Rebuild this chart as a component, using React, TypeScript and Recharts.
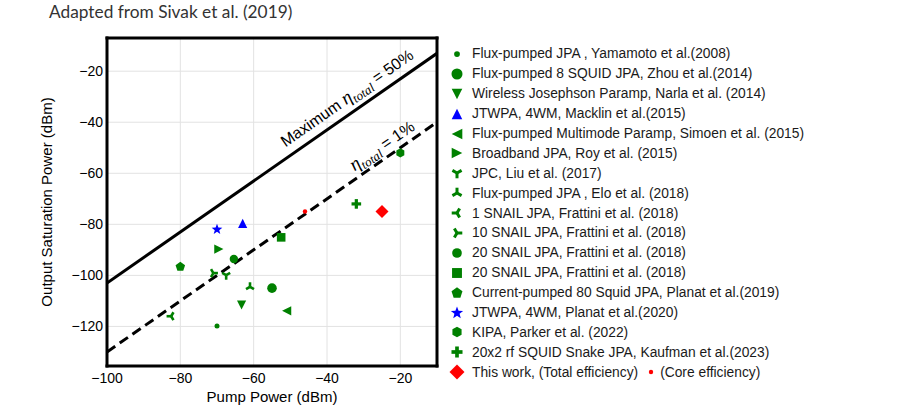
import React from "react";
import { ScatterChart, Scatter, XAxis, YAxis, CartesianGrid, ReferenceDot } from "recharts";

const studies = [
  "Flux-pumped JPA , Yamamoto et al.(2008)",
  "Flux-pumped 8 SQUID JPA, Zhou et al.(2014)",
  "Wireless Josephson Paramp, Narla et al. (2014)",
  "JTWPA, 4WM, Macklin et al.(2015)",
  "Flux-pumped Multimode Paramp, Simoen et al. (2015)",
  "Broadband JPA, Roy et al. (2015)",
  "JPC, Liu et al. (2017)",
  "Flux-pumped JPA , Elo et al. (2018)",
  "1 SNAIL JPA, Frattini et al. (2018)",
  "10 SNAIL JPA, Frattini et al. (2018)",
  "20 SNAIL JPA, Frattini et al. (2018)",
  "20 SNAIL JPA, Frattini et al. (2018)",
  "Current-pumped 80 Squid JPA, Planat et al.(2019)",
  "JTWPA, 4WM, Planat et al.(2020)",
  "KIPA, Parker et al. (2022)",
  "20x2 rf SQUID Snake JPA, Kaufman et al.(2023)",
  "This work, (Total efficiency)",
];

// pump power (dBm) and output saturation power (dBm), one per study
const pumpPower = [-70, -55, -63.3, -63, -51, -69.5, -67.5, -61, -82.5, -71, -65.4, -52.5, -80, -70, -20, -32, -25];
const saturationPower = [-119.8, -105, -111.6, -79.6, -113.9, -89.7, -99.9, -104.5, -116, -99.1, -93.6, -85.1, -96.6, -82, -52, -72, -75];

// this work, core efficiency
const corePump = [-46];
const coreSaturation = [-75];

// efficiency bounds
const boundPump = [-100, -10];
const max50Saturation = [-103, -13];
const eta1Saturation = [-130, -40];

const xMajor = [-100, -80, -60, -40, -20];
const xMinor = [-95, -90, -85, -75, -70, -65, -55, -50, -45, -35, -30, -25, -15];
const yMajor = [-120, -100, -80, -60, -40, -20];
const yMinor = [-135, -130, -125, -115, -110, -105, -95, -90, -85, -75, -70, -65, -55, -50, -45, -35, -30, -25, -15, -10];

const X_DOMAIN: [number, number] = [-100, -10];
const Y_DOMAIN: [number, number] = [-135.5, -7];

const GREEN = "#008000";
const BLUE = "#0000ff";
const RED = "#ff0000";

const markerKinds = [
  "dot", "circle", "tri_down", "tri_up", "tri_left", "tri_right",
  "y_down", "y_up", "y_left", "y_right", "circle_m", "square",
  "pentagon", "star", "hexagon", "plus", "diamond",
];
const markerColors = [
  GREEN, GREEN, GREEN, BLUE, GREEN, GREEN, GREEN, GREEN, GREEN,
  GREEN, GREEN, GREEN, GREEN, BLUE, GREEN, GREEN, RED,
];

const SANS = "'Liberation Sans', Arial, Helvetica, sans-serif";
const MATH = "'Liberation Serif', 'DejaVu Serif', serif";

function regular(cx: number, cy: number, n: number, r: number, start = -90) {
  const pts: string[] = [];
  for (let k = 0; k < n; k++) {
    const a = ((start + (360 / n) * k) * Math.PI) / 180;
    pts.push(`${cx + r * Math.cos(a)},${cy + r * Math.sin(a)}`);
  }
  return pts.join(" ");
}

function starPoints(cx: number, cy: number, r: number) {
  const pts: string[] = [];
  for (let k = 0; k < 10; k++) {
    const rr = k % 2 === 0 ? r : r * 0.42;
    const a = ((-90 + 36 * k) * Math.PI) / 180;
    pts.push(`${cx + rr * Math.cos(a)},${cy + rr * Math.sin(a)}`);
  }
  return pts.join(" ");
}

function Marker({ kind, cx, cy, color, s = 1 }: { kind: string; cx: number; cy: number; color: string; s?: number }) {
  const arms = (angles: number[]) => (
    <g stroke={color} strokeWidth={2.6 * s} strokeLinecap="butt">
      {angles.map((a) => {
        const t = (a * Math.PI) / 180;
        return <line key={a} x1={cx} y1={cy} x2={cx + 4.6 * s * Math.cos(t)} y2={cy + 4.6 * s * Math.sin(t)} />;
      })}
    </g>
  );
  const r = 4.6 * s;
  switch (kind) {
    case "dot":
      return <circle cx={cx} cy={cy} r={2.5 * s} fill={color} />;
    case "circle":
      return <circle cx={cx} cy={cy} r={4.8 * s} fill={color} />;
    case "circle_m":
      return <circle cx={cx} cy={cy} r={4.2 * s} fill={color} />;
    case "tri_down":
      return <polygon points={`${cx - r},${cy - r} ${cx + r},${cy - r} ${cx},${cy + r}`} fill={color} />;
    case "tri_up":
      return <polygon points={`${cx - r},${cy + r} ${cx + r},${cy + r} ${cx},${cy - r}`} fill={color} />;
    case "tri_left":
      return <polygon points={`${cx + r},${cy - r} ${cx + r},${cy + r} ${cx - r},${cy}`} fill={color} />;
    case "tri_right":
      return <polygon points={`${cx - r},${cy - r} ${cx - r},${cy + r} ${cx + r},${cy}`} fill={color} />;
    case "y_down":
      return arms([90, 210, 330]);
    case "y_up":
      return arms([270, 30, 150]);
    case "y_left":
      return arms([180, 300, 60]);
    case "y_right":
      return arms([0, 120, 240]);
    case "square":
      return <rect x={cx - 4.3 * s} y={cy - 4.3 * s} width={8.6 * s} height={8.6 * s} fill={color} />;
    case "pentagon":
      return <polygon points={regular(cx, cy, 5, 5 * s)} fill={color} />;
    case "star":
      return <polygon points={starPoints(cx, cy, 5.6 * s)} fill={color} />;
    case "hexagon":
      return <polygon points={regular(cx, cy, 6, 4.6 * s)} fill={color} />;
    case "plus": {
      const w = 1.6 * s;
      const l = 4.8 * s;
      return (
        <g fill={color}>
          <rect x={cx - l} y={cy - w} width={2 * l} height={2 * w} />
          <rect x={cx - w} y={cy - l} width={2 * w} height={2 * l} />
        </g>
      );
    }
    case "diamond": {
      const d = 6.5 * s;
      return <polygon points={`${cx},${cy - d} ${cx + d},${cy} ${cx},${cy + d} ${cx - d},${cy}`} fill={color} />;
    }
    default:
      return null;
  }
}

const minus = (v: number) => String(v).replace("-", "\u2212");
const tickFont = { fontSize: 14, fill: "#000", fontFamily: SANS };
const frame = { stroke: "#000", strokeWidth: 3, strokeLinecap: "square" as const };
const tickStroke = { stroke: "#000", strokeWidth: 1.3 };

function EtaTotal({ size }: { size: number }) {
  return (
    <>
      <tspan fontFamily={MATH} fontStyle="italic" fontSize={size + 3}>η</tspan>
      <tspan fontFamily={MATH} fontStyle="italic" fontSize={size - 3} dy={4}>total</tspan>
    </>
  );
}

// label anchors along the two bound lines (data coords)
const max50Label = { x: -34.6, y: -30.5 };
const eta1Label = { x: -25, y: -49.2 };
const LINE_ANGLE = -34.8;

export default function App() {
  const series = studies.map((name, i) => ({
    name,
    data: [{ x: pumpPower[i], y: saturationPower[i] }],
  }));
  const core = corePump.map((x, i) => ({ x, y: coreSaturation[i] }));
  const max50 = boundPump.map((x, i) => ({ x, y: max50Saturation[i] }));
  const eta1 = boundPump.map((x, i) => ({ x, y: eta1Saturation[i] }));

  return (
    <div style={{ position: "absolute", left: 0, top: 0, width: 900, height: 415, background: "#fff" }}>
      <div
        style={{
          position: "absolute", left: 49, top: 1, fontFamily: "Lato, 'Open Sans', sans-serif",
          fontSize: 17.3, color: "#333", whiteSpace: "nowrap",
        }}
      >
        Adapted from Sivak et al. (2019)
      </div>

      <ScatterChart width={900} height={415} margin={{ top: 38, right: 463, bottom: 19, left: 47 }}>
        <CartesianGrid stroke="#e2e2e2" strokeWidth={1} />

        <XAxis
          type="number" dataKey="x" domain={X_DOMAIN} allowDataOverflow ticks={xMajor} interval={0}
          tickFormatter={minus} tick={tickFont} tickLine={false} tickSize={0} tickMargin={7}
          axisLine={frame} height={30}
          label={{ value: "Pump Power (dBm)", position: "insideBottom", offset: -6, fontSize: 15, fill: "#000", fontFamily: SANS }}
        />
        <YAxis
          type="number" dataKey="y" domain={Y_DOMAIN} allowDataOverflow ticks={yMajor} interval={0}
          tickFormatter={minus} tick={tickFont} tickLine={false} tickSize={0} tickMargin={4}
          axisLine={frame} width={60}
          label={{
            value: "Output Saturation Power (dBm)", angle: -90, position: "insideLeft", offset: 0,
            fontSize: 15, fill: "#000", fontFamily: SANS, style: { textAnchor: "middle" },
          }}
        />

        <XAxis xAxisId="bMaj" type="number" domain={X_DOMAIN} allowDataOverflow orientation="bottom" mirror
          ticks={xMajor} interval={0} tick={false} tickSize={6} tickLine={tickStroke} axisLine={false} />
        <XAxis xAxisId="bMin" type="number" domain={X_DOMAIN} allowDataOverflow orientation="bottom" mirror
          ticks={xMinor} interval={0} tick={false} tickSize={3.5} tickLine={tickStroke} axisLine={false} />
        <XAxis xAxisId="tMaj" type="number" domain={X_DOMAIN} allowDataOverflow orientation="top" mirror
          ticks={xMajor} interval={0} tick={false} tickSize={6} tickLine={tickStroke} axisLine={frame} />
        <XAxis xAxisId="tMin" type="number" domain={X_DOMAIN} allowDataOverflow orientation="top" mirror
          ticks={xMinor} interval={0} tick={false} tickSize={3.5} tickLine={tickStroke} axisLine={false} />
        <YAxis yAxisId="lMaj" type="number" domain={Y_DOMAIN} allowDataOverflow orientation="left" mirror
          ticks={yMajor} interval={0} tick={false} tickSize={6} tickLine={tickStroke} axisLine={false} />
        <YAxis yAxisId="lMin" type="number" domain={Y_DOMAIN} allowDataOverflow orientation="left" mirror
          ticks={yMinor} interval={0} tick={false} tickSize={3.5} tickLine={tickStroke} axisLine={false} />
        <YAxis yAxisId="rMaj" type="number" domain={Y_DOMAIN} allowDataOverflow orientation="right" mirror
          ticks={yMajor} interval={0} tick={false} tickSize={6} tickLine={tickStroke} axisLine={frame} />
        <YAxis yAxisId="rMin" type="number" domain={Y_DOMAIN} allowDataOverflow orientation="right" mirror
          ticks={yMinor} interval={0} tick={false} tickSize={3.5} tickLine={tickStroke} axisLine={false} />

        <Scatter data={max50} isAnimationActive={false} line={{ stroke: "#000", strokeWidth: 3 }} shape={() => <g />} />
        <Scatter data={eta1} isAnimationActive={false} line={{ stroke: "#000", strokeWidth: 3, strokeDasharray: "10 5.5" }} shape={() => <g />} />

        <ReferenceDot
          x={max50Label.x} y={max50Label.y} r={0} ifOverflow="visible"
          shape={(p: any) => (
            <text x={p.cx} y={p.cy} dy="0.35em" textAnchor="middle" fontFamily={SANS} fontSize={16} fill="#000"
              transform={`rotate(${LINE_ANGLE} ${p.cx} ${p.cy})`}>
              Maximum{" "}<EtaTotal size={16} /><tspan dy={-4}> = 50%</tspan>
            </text>
          )}
        />
        <ReferenceDot
          x={eta1Label.x} y={eta1Label.y} r={0} ifOverflow="visible"
          shape={(p: any) => (
            <text x={p.cx} y={p.cy} dy="0.35em" textAnchor="middle" fontFamily={SANS} fontSize={16} fill="#000"
              transform={`rotate(${LINE_ANGLE} ${p.cx} ${p.cy})`}>
              <EtaTotal size={16} /><tspan dy={-4}> = 1%</tspan>
            </text>
          )}
        />

        {series.map((s, i) => (
          <Scatter
            key={i} name={s.name} data={s.data} isAnimationActive={false}
            shape={(p: any) => <Marker kind={markerKinds[i]} cx={p.cx} cy={p.cy} color={markerColors[i]} />}
          />
        ))}
        <Scatter
          name="Core efficiency" data={core} isAnimationActive={false}
          shape={(p: any) => <circle cx={p.cx} cy={p.cy} r={2.2} fill={RED} />}
        />
      </ScatterChart>

      <div style={{ position: "absolute", left: 447, top: 44, fontFamily: SANS, fontSize: 13.8, color: "#1a1a1a" }}>
        {studies.map((name, i) => (
          <div key={i} style={{ height: 19.9, display: "flex", alignItems: "center", whiteSpace: "nowrap" }}>
            <svg width={20} height={20} style={{ flex: "none" }}>
              <Marker kind={markerKinds[i]} cx={10} cy={10} color={markerColors[i]} s={1.15} />
            </svg>
            <span style={{ marginLeft: 5 }}>{name}</span>
            {i === studies.length - 1 && (
              <>
                <svg width={10} height={10} style={{ marginLeft: 8, marginRight: 4, flex: "none" }}>
                  <circle cx={5} cy={5} r={2.2} fill={RED} />
                </svg>
                <span>(Core efficiency)</span>
              </>
            )}
          </div>
        ))}
      </div>
    </div>
  );
}
